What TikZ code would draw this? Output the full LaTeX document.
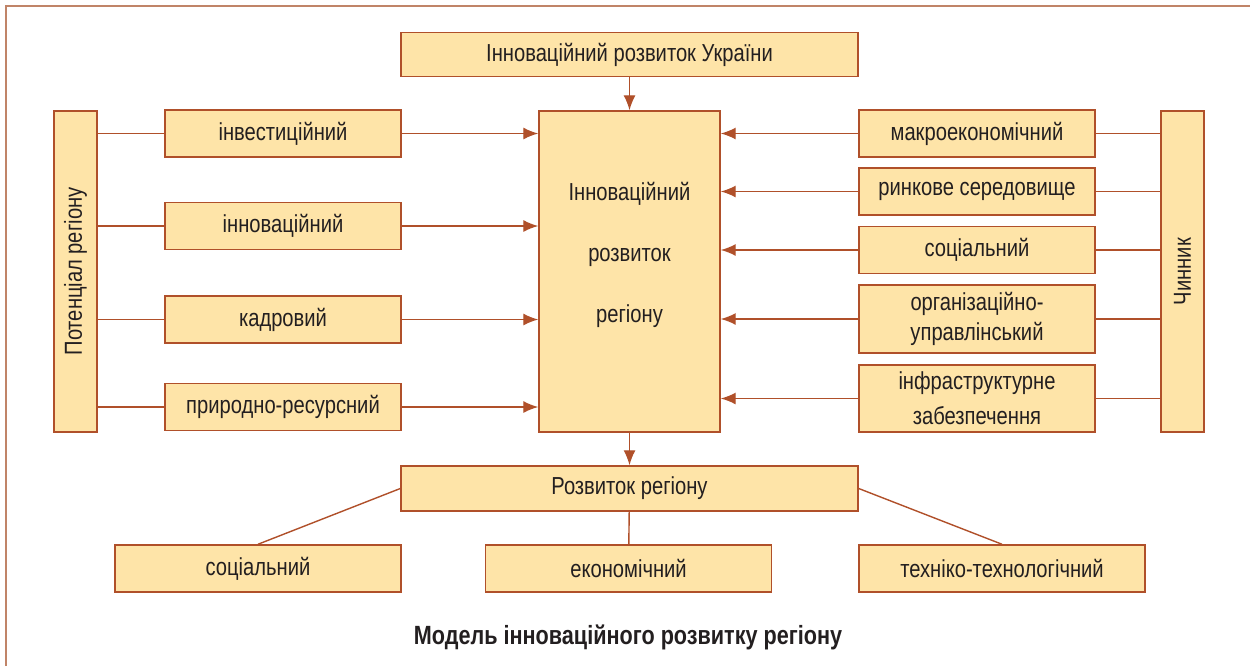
\documentclass[tikz,border=0pt]{standalone}
\usepackage{fontspec}
\setmainfont[FakeStretch=0.82]{Liberation Sans}
\usetikzlibrary{arrows.meta}
\definecolor{boxfill}{HTML}{FEE4A8}
\definecolor{boxline}{HTML}{B0502A}
\definecolor{frameline}{HTML}{C08468}
\definecolor{ink}{HTML}{231F20}

\begin{document}
\begin{tikzpicture}[x=0.02cm,y=-0.02cm]
  \useasboundingbox (0,0) rectangle (1250,666);
  \draw[frameline,line width=1.3pt] (6,666) -- (6,6) -- (1250,6);
  \begin{scope}[
    every node/.style={draw=boxline,fill=boxfill,line width=0.85pt,text=ink,
      font=\fontsize{14}{17}\selectfont,inner sep=1pt,align=center},
    wide/.style={minimum width=9.14cm,minimum height=0.88cm},
    tall/.style={minimum width=0.86cm,minimum height=6.42cm},
    side/.style={minimum width=4.72cm,minimum height=0.94cm},
    low/.style={minimum width=5.72cm,minimum height=0.94cm},
    ]
    \node[wide] (ukr) at (629.5,54.5) {Інноваційний розвиток України};
    \node[minimum width=3.62cm,minimum height=6.42cm] (centre) at (629.5,271.5)
      {Інноваційний\\[0.62cm]розвиток\\[0.62cm]регіону\\[0.18cm]\mbox{}};
    \node[tall] (pot) at (75.5,271.5) {\rotatebox{90}{Потенціал регіону}};
    \node[tall] (chyn) at (1182.5,271.5) {\rotatebox{90}{Чинник}};
    % potential
    \node[side] (inv) at (283,133.5) {інвестиційний};
    \node[side] (innov) at (283,226) {інноваційний};
    \node[side] (kadr) at (283,319.5) {кадровий};
    \node[side] (prir) at (283,407) {природно-ресурсний};
    % factors
    \node[side] (makro) at (977,133.5) {макроекономічний};
    \node[side] (rynok) at (977,191.5) {ринкове середовище};
    \node[side] (socf) at (977,250) {соціальний};
    \node[side,minimum height=1.36cm] (org) at (977,319)
      {організаційно-\\управлінський};
    \node[side,minimum height=1.34cm] (infra) at (977,398.5)
      {інфраструктурне\\[0.1cm]забезпечення};
    % result
    \node[wide,minimum height=0.9cm] (rozv) at (629.5,488.5) {Розвиток регіону};
    \node[low] (soc) at (258,568.5) {соціальний};
    \node[low] (ekon) at (628.5,568.5) {економічний};
    \node[low] (tekh) at (1002,568.5) {техніко-технологічний};
    \node[draw=none,fill=none,font=\fontsize{15}{18}\selectfont\bfseries]
      (title) at (628,637) {Модель інноваційного розвитку регіону};
  \end{scope}
  \begin{scope}[
    every path/.style={draw=boxline,line width=0.8pt},
    >={Latex[length=3mm,width=2.4mm]},
    ]
    \path[->] (ukr) -- (centre);
    \path[->] (centre) -- (rozv);
    \foreach \n in {inv,innov,kadr,prir}{
      \path (pot.east |- \n.west) -- (\n.west);
      \path[->] (\n.east) -- (centre.west |- \n.east);
    }
    \foreach \n in {makro,rynok,socf,org,infra}{
      \path (chyn.west |- \n.east) -- (\n.east);
      \path[->] (\n.west) -- (centre.east |- \n.west);
    }
    \path (rozv.west) -- (soc.north);
    \path (rozv) -- (ekon);
    \path (rozv.east) -- (tekh.north);
  \end{scope}
\end{tikzpicture}
\end{document}
